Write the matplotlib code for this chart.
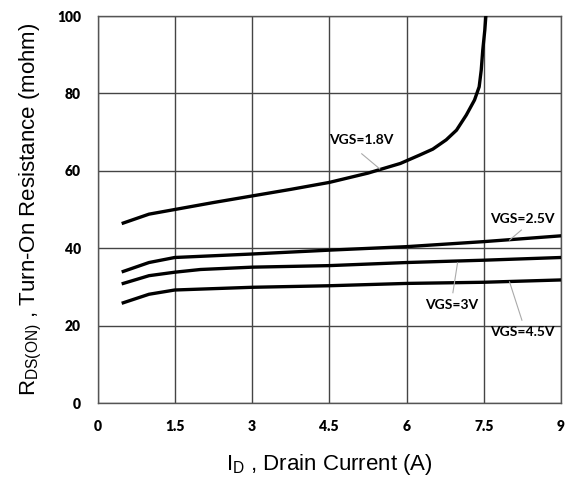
import matplotlib
matplotlib.use('Agg')
import matplotlib.pyplot as plt
import numpy as np

# drain current (A) and on-resistance (mohm)
id_18 = [0.5, 1.0, 1.5, 2.25, 3.0, 3.75, 4.5, 5.25, 5.88, 6.26, 6.51, 6.77, 6.97,
         7.16, 7.32, 7.41, 7.45, 7.48, 7.52, 7.54]
r_18 = [46.5, 48.8, 50.0, 51.8, 53.5, 55.2, 57.0, 59.4, 61.9, 64.1, 65.6, 68.0, 70.5,
        74.4, 78.3, 81.7, 86.0, 91.2, 96.4, 100.0]

id_25 = [0.5, 1.0, 1.5, 3.0, 4.5, 6.0, 7.5, 9.0]
r_25 = [34.0, 36.3, 37.6, 38.5, 39.5, 40.4, 41.7, 43.2]

id_3 = [0.5, 1.0, 1.5, 2.0, 3.0, 4.5, 6.0, 7.5, 9.0]
r_3 = [30.9, 32.9, 33.8, 34.5, 35.1, 35.5, 36.3, 36.9, 37.6]

id_45 = [0.5, 1.0, 1.5, 3.0, 4.5, 6.0, 7.5, 9.0]
r_45 = [25.9, 28.1, 29.2, 29.9, 30.3, 30.9, 31.2, 31.8]

labels = ['VGS=1.8V', 'VGS=2.5V', 'VGS=3V', 'VGS=4.5V']
x_ticks = [0, 1.5, 3, 4.5, 6, 7.5, 9]
x_ticklabels = ['0', '1.5', '3', '4.5', '6', '7.5', '9']
y_ticks = [0, 20, 40, 60, 80, 100]

plt.rcParams['mathtext.fontset'] = 'custom'
plt.rcParams['mathtext.rm'] = 'Liberation Sans'

fig = plt.figure(figsize=(5.79, 4.78), dpi=100)
ax = fig.add_axes([0.1684, 0.1569, 0.8006, 0.8096])

for xs, ys in [(id_18, r_18), (id_25, r_25), (id_3, r_3), (id_45, r_45)]:
    ax.plot(xs, ys, color='black', lw=2.4, solid_joinstyle='round', zorder=3)

ax.set_xlim(0, 9)
ax.set_ylim(0, 100)
ax.set_xticks(x_ticks)
ax.set_xticklabels(x_ticklabels)
ax.set_yticks(y_ticks)
ax.grid(True, color='#444444', lw=1.0)
for s in ax.spines.values():
    s.set_color('#555555')
    s.set_linewidth(1.0)
ax.tick_params(length=0)
ax.tick_params(axis='x', pad=12)
ax.tick_params(axis='y', pad=12)
for t in ax.get_xticklabels() + ax.get_yticklabels():
    t.set_fontfamily('Lato')
    t.set_fontweight('heavy')
    t.set_fontsize(10)

# curve labels with thin grey leaders
ann = [
    (labels[0], (5.48, 60.5), (5.13, 64.4), (5.13, 66.5), 'bottom'),
    (labels[1], (8.0, 42.1), (8.23, 44.7), (8.25, 46.0), 'bottom'),
    (labels[2], (6.99, 36.2), (6.9, 28.5), (6.88, 27.0), 'top'),
    (labels[3], (8.0, 31.3), (8.24, 21.4), (8.24, 20.0), 'top'),
]
for txt, tip, base, pos, va in ann:
    ax.plot([tip[0], base[0]], [tip[1], base[1]], color='#aaaaaa', lw=0.8, zorder=4)
    ax.text(pos[0], pos[1], txt, ha='center', va=va, fontfamily='Lato',
            fontweight='bold', fontsize=10, zorder=5)

ax.set_xlabel(r'I$_{\mathrm{D}}$ , Drain Current (A)', fontfamily='Liberation Sans',
              fontsize=16, labelpad=14)
ax.set_ylabel(r'R$_{\mathrm{DS(ON)}}$ , Turn-On Resistance (mohm)', fontfamily='Liberation Sans',
              fontsize=16, labelpad=9)

fig.savefig('out.png', dpi=100)
